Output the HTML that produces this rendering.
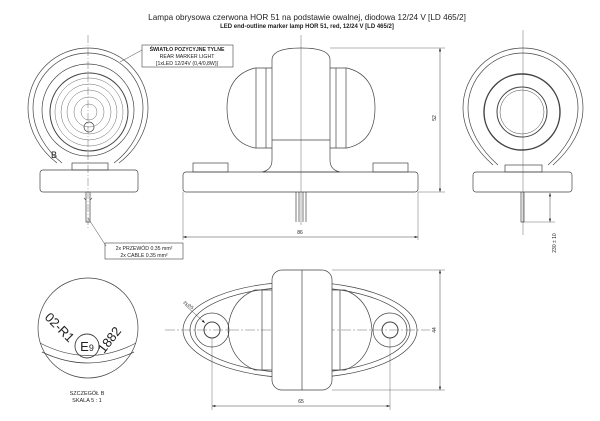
<!DOCTYPE html>
<html><head><meta charset="utf-8"><style>
html,body{margin:0;padding:0;background:#fff;width:600px;height:421px;overflow:hidden}
svg{display:block}
text{font-family:"Liberation Sans",sans-serif;fill:#222}
</style></head><body>
<svg width="600" height="421" viewBox="0 0 600 421" xmlns="http://www.w3.org/2000/svg">
<defs><marker id="a" viewBox="0 0 10 6" refX="10" refY="3" markerWidth="7" markerHeight="4" orient="auto-start-reverse"><path d="M0,0L10,3L0,6z" fill="#111"/></marker></defs>
<text x="307" y="20" font-size="8.2" text-anchor="middle">Lampa obrysowa czerwona HOR 51 na podstawie owalnej, diodowa 12/24 V [LD 465/2]</text>
<text x="307" y="28" font-size="6" text-anchor="middle" font-weight="bold">LED end-outline marker lamp HOR 51, red, 12/24 V [LD 465/2]</text>
<g fill="none" stroke="#444" stroke-width="0.7">
<line x1="88" y1="35" x2="88" y2="230" stroke-width="0.4" stroke-dasharray="8,2,1,2"/>
<path d="M57,163 C40,150 28,130 28,108 A60,60 0 1 1 148,108 C148,130 136,150 119,163"/>
<path d="M62,163 C46,150 33,130 33,108 A55,55 0 1 1 143,108 C143,130 131,150 114,163"/>
<circle cx="88" cy="110" r="46"/>
<circle cx="89" cy="112" r="39" stroke-width="1"/>
<circle cx="89" cy="112" r="34" stroke-width="0.4"/>
<circle cx="89" cy="112" r="28" stroke-width="0.4"/>
<circle cx="89" cy="112" r="22" stroke-width="0.4"/>
<circle cx="89" cy="112" r="15" stroke-width="0.4"/>
<circle cx="89" cy="112" r="8" stroke-width="0.4"/>
<circle cx="89" cy="127" r="5"/>
<rect x="40" y="170" width="98" height="22" rx="3"/>
<rect x="72" y="163" width="36" height="7"/>
<path d="M86,192V222h4V192M86,200l-2,-2M90,200l2,-2"/>
<polyline points="120,62 142,50" stroke-width="0.5"/>
<rect x="142" y="45" width="91" height="22" stroke-width="0.6"/>
<line x1="88" y1="218" x2="106" y2="246" stroke-width="0.5"/>
<rect x="105" y="243" width="78" height="16" stroke-width="0.6"/>
<line x1="301" y1="35" x2="301" y2="225" stroke-width="0.4"/>
<path d="M272,60 Q272,48 301,48 Q330,48 330,60 V160 Q330,170 340,172 H262 Q272,170 272,160Z"/>
<path d="M272,68 H255 Q227,75 227,108 Q227,142 255,148 H272"/>
<path d="M330,68 H347 Q375,75 375,108 Q375,142 347,148 H330"/>
<line x1="256" y1="68" x2="256" y2="148"/><line x1="266" y1="68" x2="266" y2="148"/>
<line x1="346" y1="68" x2="346" y2="148"/><line x1="336" y1="68" x2="336" y2="148"/>
<line x1="272" y1="140" x2="330" y2="140"/>
<rect x="183" y="172" width="235" height="20" rx="3"/>
<rect x="193" y="163" width="35" height="9"/><rect x="373" y="163" width="35" height="9"/>
<path d="M296,192V222M299,192V222M303,192V222M306,192V222"/>
<line x1="330" y1="48" x2="445" y2="48" stroke-width="0.4"/>
<line x1="418" y1="192" x2="445" y2="192" stroke-width="0.4"/>
<line x1="440" y1="48" x2="440" y2="192" stroke-width="0.5" marker-start="url(#a)" marker-end="url(#a)"/>
<line x1="183" y1="192" x2="183" y2="240" stroke-width="0.4"/><line x1="418" y1="192" x2="418" y2="240" stroke-width="0.4"/>
<line x1="183" y1="237" x2="418" y2="237" stroke-width="0.5" marker-start="url(#a)" marker-end="url(#a)"/>
<line x1="523" y1="30" x2="523" y2="235" stroke-width="0.4"/>
<path d="M493,165 C476,150 463,130 463,108 A60,60 0 1 1 583,108 C583,130 570,150 553,165"/>
<path d="M498,165 C481,150 468,130 468,108 A55,55 0 1 1 578,108 C578,130 565,150 548,165"/>
<circle cx="522" cy="112" r="38" stroke-width="1.4"/>
<circle cx="522" cy="112" r="25" stroke-width="1"/>
<circle cx="522" cy="112" r="22" stroke-width="0.5"/>
<rect x="473" y="172" width="99" height="20" rx="3"/>
<rect x="505" y="165" width="37" height="7"/>
<path d="M521,192V222h3V192"/>
<line x1="524" y1="222" x2="555" y2="222" stroke-width="0.4"/>
<line x1="550" y1="208" x2="550" y2="193" stroke-width="0.5" marker-end="url(#a)"/>
<line x1="550" y1="208" x2="550" y2="222" stroke-width="0.5" marker-end="url(#a)"/>
<circle cx="88" cy="328" r="50"/>
<path d="M40,343 Q88,368 136,343M42,352 Q88,374 134,352"/>
<circle cx="87" cy="346" r="12" stroke-width="0.9"/>
<line x1="165" y1="330" x2="430" y2="330" stroke-width="0.4" stroke-dasharray="10,2,2,2"/>
<ellipse cx="300" cy="330" rx="117" ry="48"/>
<ellipse cx="300" cy="330" rx="110" ry="43"/>
<path d="M272,290 H255 Q230,300 228,330 Q230,360 255,370 H272"/>
<path d="M330,290 H345 Q370,300 372,330 Q370,360 345,370 H330"/>
<line x1="262" y1="290" x2="262" y2="370"/><line x1="340" y1="290" x2="340" y2="370"/>
<rect x="272" y="270" width="60" height="120" rx="10" fill="#fff"/>
<line x1="302" y1="270" x2="302" y2="390"/>
<circle cx="212" cy="330" r="17"/><circle cx="212" cy="330" r="8" stroke-width="1"/>
<circle cx="390" cy="330" r="17"/><circle cx="390" cy="330" r="8" stroke-width="1"/>
<line x1="185" y1="305" x2="205" y2="323" stroke-width="0.5" marker-end="url(#a)"/>
<line x1="332" y1="270" x2="445" y2="270" stroke-width="0.4"/>
<line x1="332" y1="390" x2="445" y2="390" stroke-width="0.4"/>
<line x1="440" y1="270" x2="440" y2="390" stroke-width="0.5" marker-start="url(#a)" marker-end="url(#a)"/>
<line x1="212" y1="338" x2="212" y2="410" stroke-width="0.4"/><line x1="390" y1="338" x2="390" y2="410" stroke-width="0.4"/>
<line x1="212" y1="406" x2="390" y2="406" stroke-width="0.5" marker-start="url(#a)" marker-end="url(#a)"/>
</g>
<text x="187" y="51" font-size="5.2" text-anchor="middle" font-weight="bold">ŚWIATŁO POZYCYJNE TYLNE</text>
<text x="187" y="58" font-size="5.2" text-anchor="middle">REAR MARKER LIGHT</text>
<text x="187" y="65" font-size="5.2" text-anchor="middle">[1xLED 12/24V (0,4/0,8W)]</text>
<text x="144" y="250" font-size="5.2" text-anchor="middle">2x PRZEWÓD 0.35 mm²</text>
<text x="144" y="257" font-size="5.2" text-anchor="middle">2x CABLE 0.35 mm²</text>
<text x="51" y="158" font-size="9">B</text>
<text x="300" y="234" font-size="5" text-anchor="middle">86</text>
<text x="436" y="118" font-size="5" text-anchor="middle" transform="rotate(-90 436 118)">52</text>
<text x="556" y="243" font-size="5" text-anchor="middle" transform="rotate(-90 556 243)">230 ± 10</text>
<text x="301" y="403" font-size="5" text-anchor="middle">65</text>
<text x="436" y="330" font-size="5" text-anchor="middle" transform="rotate(-90 436 330)">44</text>
<text x="183" y="303" font-size="4.5" transform="rotate(35 183 303)">2x∅5</text>
<text x="44" y="318" font-size="13" transform="rotate(45 44 318)">02-R1</text>
<text x="87" y="351" font-size="13" text-anchor="middle">E<tspan font-size="9">9</tspan></text>
<text x="104" y="354" font-size="13" transform="rotate(-52 104 354)">1882</text>
<text x="87" y="395" font-size="5.5" text-anchor="middle">SZCZEGÓŁ B</text>
<text x="87" y="402" font-size="5.5" text-anchor="middle">SKALA 5 : 1</text>
</svg>
</body></html>
